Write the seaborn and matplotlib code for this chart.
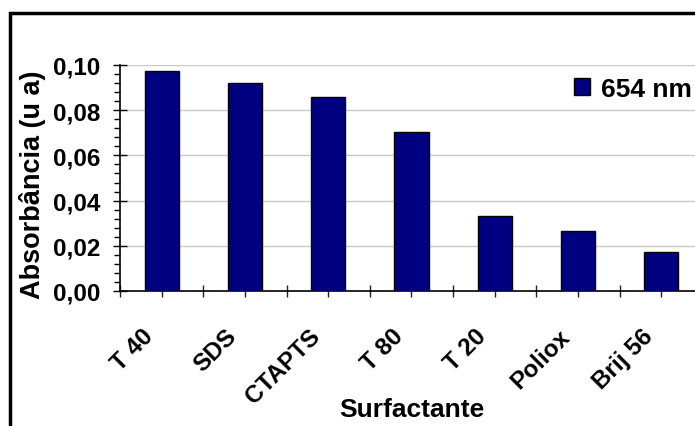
import matplotlib
matplotlib.use("Agg")
import matplotlib.pyplot as plt
import matplotlib.transforms as mtransforms
from matplotlib.patches import Rectangle
from matplotlib.ticker import MultipleLocator, FixedLocator, FuncFormatter
import seaborn as sns
import pandas as pd

categories = ["T 40", "SDS", "CTAPTS", "T 80", "T 20", "Poliox", "Brij 56"]
values = [0.0973, 0.0920, 0.0860, 0.0705, 0.0332, 0.0266, 0.0174]
series_label = "654 nm"
y_ticks = [0.00, 0.02, 0.04, 0.06, 0.08, 0.10]

sns.set_style("white")
plt.rcParams['font.family'] = ['Liberation Sans', 'DejaVu Sans']
plt.rcParams['font.weight'] = 'bold'
plt.rcParams['text.color'] = 'black'
plt.rcParams['axes.labelcolor'] = 'black'
plt.rcParams['xtick.color'] = 'black'
plt.rcParams['ytick.color'] = 'black'

W, H = 695, 427
fig = plt.figure(figsize=(W / 100, H / 100), dpi=100)
fig.patch.set_facecolor("white")

# outer frame (cropped on right/bottom)
fig.patches.append(Rectangle((10 / W, -0.2), 1.2, (H - 14) / H + 0.2,
                             transform=fig.transFigure, fill=False,
                             edgecolor="black", linewidth=2.5, zorder=10))

ax_l, ax_r, ax_t, ax_b = 120, 703, 66, 292
ax = fig.add_axes([ax_l / W, (H - ax_b) / H, (ax_r - ax_l) / W, (ax_b - ax_t) / H])

df = pd.DataFrame({"Surfactante": categories, "val": values})
sns.barplot(data=df, x="Surfactante", y="val", color="#000080", edgecolor="black",
            linewidth=1.0, width=0.41, saturation=1, label=series_label, ax=ax, zorder=3)

ax.set_xlim(-0.5, len(categories) - 0.5)
ax.set_ylim(0, 0.10)
ax.yaxis.set_major_locator(FixedLocator(y_ticks))
ax.yaxis.set_minor_locator(MultipleLocator(0.004))
ax.yaxis.set_major_formatter(FuncFormatter(lambda v, p: f"{v:.2f}".replace(".", ",")))
ax.grid(axis="y", color="#c8c8c8", linewidth=1.0, zorder=0)
ax.set_axisbelow(True)

for s in ["top", "right"]:
    ax.spines[s].set_visible(False)
for s in ["left", "bottom"]:
    ax.spines[s].set_color("black")
    ax.spines[s].set_linewidth(1.2)

ax.xaxis.set_minor_locator(FixedLocator([i - 0.5 for i in range(len(categories) + 1)]))
ax.tick_params(axis="x", which="both", direction="inout", length=9, width=1.0,
               color="#222222", bottom=True)
ax.tick_params(axis="y", which="major", direction="inout", length=10, width=1.0,
               color="black", left=True, pad=9, labelsize=17.5, labelcolor="black")
ax.tick_params(axis="y", which="minor", direction="out", length=4, width=1.0,
               color="black", left=True)

ax.set_xticks(range(len(categories)))
ax.set_xticklabels(categories, rotation=45, ha="right", va="top",
                   rotation_mode="anchor", fontsize=17.5, fontweight="bold", color="black")
ax.tick_params(axis="x", which="major", pad=0)
offset = mtransforms.ScaledTranslation(-20 / 100, -27 / 100, fig.dpi_scale_trans)
for lab in ax.get_xticklabels():
    lab.set_transform(lab.get_transform() + offset)
for lab in ax.get_yticklabels():
    lab.set_fontweight("bold")

ax.set_xlabel("Surfactante", fontsize=19, fontweight="bold", color="black")
ax.xaxis.label.set_va("center")
ax.xaxis.set_label_coords(0.5, -(410 - ax_b) / (ax_b - ax_t))
ax.set_ylabel("Absorbância (u a)", fontsize=19.5, fontweight="bold", color="black")
ax.yaxis.label.set_va("center")
ax.yaxis.set_label_coords((32 - ax_l) / (ax_r - ax_l), (ax_b - 185) / (ax_b - ax_t))

leg = ax.legend(loc="center left", bbox_to_anchor=(574 / W, 1 - 90 / H),
                bbox_transform=fig.transFigure, frameon=False, borderpad=0,
                borderaxespad=0, handlelength=0.62, handleheight=0.62,
                handletextpad=0.4, prop={"family": "Liberation Sans", "weight": "bold", "size": 19})
for t in leg.get_texts():
    t.set_color("black")

fig.savefig("out.png", dpi=100)
